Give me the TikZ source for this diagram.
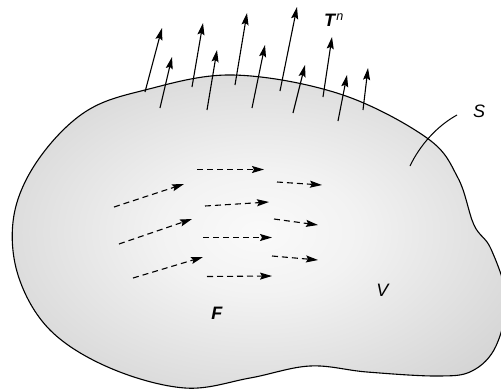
\documentclass[tikz,border=0pt]{standalone}
\usepackage{fontspec}
\setmainfont{Liberation Sans}
\usetikzlibrary{arrows.meta}
\pgfdeclareradialshading{blobshade}{\pgfpoint{0bp}{0bp}}{color(0bp)=(white!98!black); color(10bp)=(white!95!black); color(44bp)=(black!24); color(70bp)=(black!27)}
\begin{document}
\begin{tikzpicture}[x=1pt,y=-1pt,
  outline/.style={line width=1.1pt},
  tarrow/.style={line width=1.1pt,-{Stealth[length=12pt,width=7pt,inset=2pt]}},
  farrow/.style={line width=1.1pt,dash pattern=on 6pt off 4pt,-{Stealth[length=12pt,width=7pt,inset=2pt]}},
  lbl/.style={inner sep=0pt,font=\fontsize{18}{20}\selectfont}]
\useasboundingbox (0,0) rectangle (501,389);
\shadedraw[shading=blobshade,outline] plot[smooth cycle,tension=0.6] coordinates {
 (145,90) (233,75) (340,94) (427,138) (458,178) (474,225) (491,249) (506,298)
 (496,346) (472,371) (437,376) (367,372) (310,366) (250,378) (185,388)
 (110,368) (50,330) (18,275) (14,215) (38,160) (85,112)};
% surface tractions
\foreach \a/\b/\c/\d [count=\i] in {145/92/162/28, 160/108/172/57, 192/87/203/23,
  207/110/217/50, 235/85/247/13, 252/108/265/45, 280/91/297/7, 293/113/305/65,
  323/97/332/37, 338/121/347/75, 363/110/368/68}{
  \coordinate (ts\i) at (\a,\b);
  \coordinate (te\i) at (\c,\d);
  \draw[tarrow] (ts\i) -- (te\i);
}
% body forces
\foreach \a/\b/\c/\d [count=\i] in {114/207/184/184, 119/244/192/219, 133/278/203/257,
  197/169.5/264/169.5, 205/206/269/202, 203/237.5/272/237.5, 207/276.5/272/276,
  277/182/322/185, 274/219/318/225, 272/256/318/260}{
  \coordinate (fs\i) at (\a,\b);
  \coordinate (fe\i) at (\c,\d);
  \draw[farrow] (fs\i) -- (fe\i);
}
% labels
\node[lbl] (Tn) at (334,20) {\textbf{\textit{T}}\textsuperscript{\textit{n}}};
\node[lbl] (S) at (479,111) {\textit{S}};
\node[lbl] (V) at (383,290) {\textit{V}};
\node[lbl] (F) at (217,313) {\textbf{\textit{F}}};
\coordinate (sA) at (457,115);
\coordinate (sB) at (410,166);
\draw[line width=1pt] (sA) .. controls (437,126) and (420,145) .. (sB);
\end{tikzpicture}
\end{document}
